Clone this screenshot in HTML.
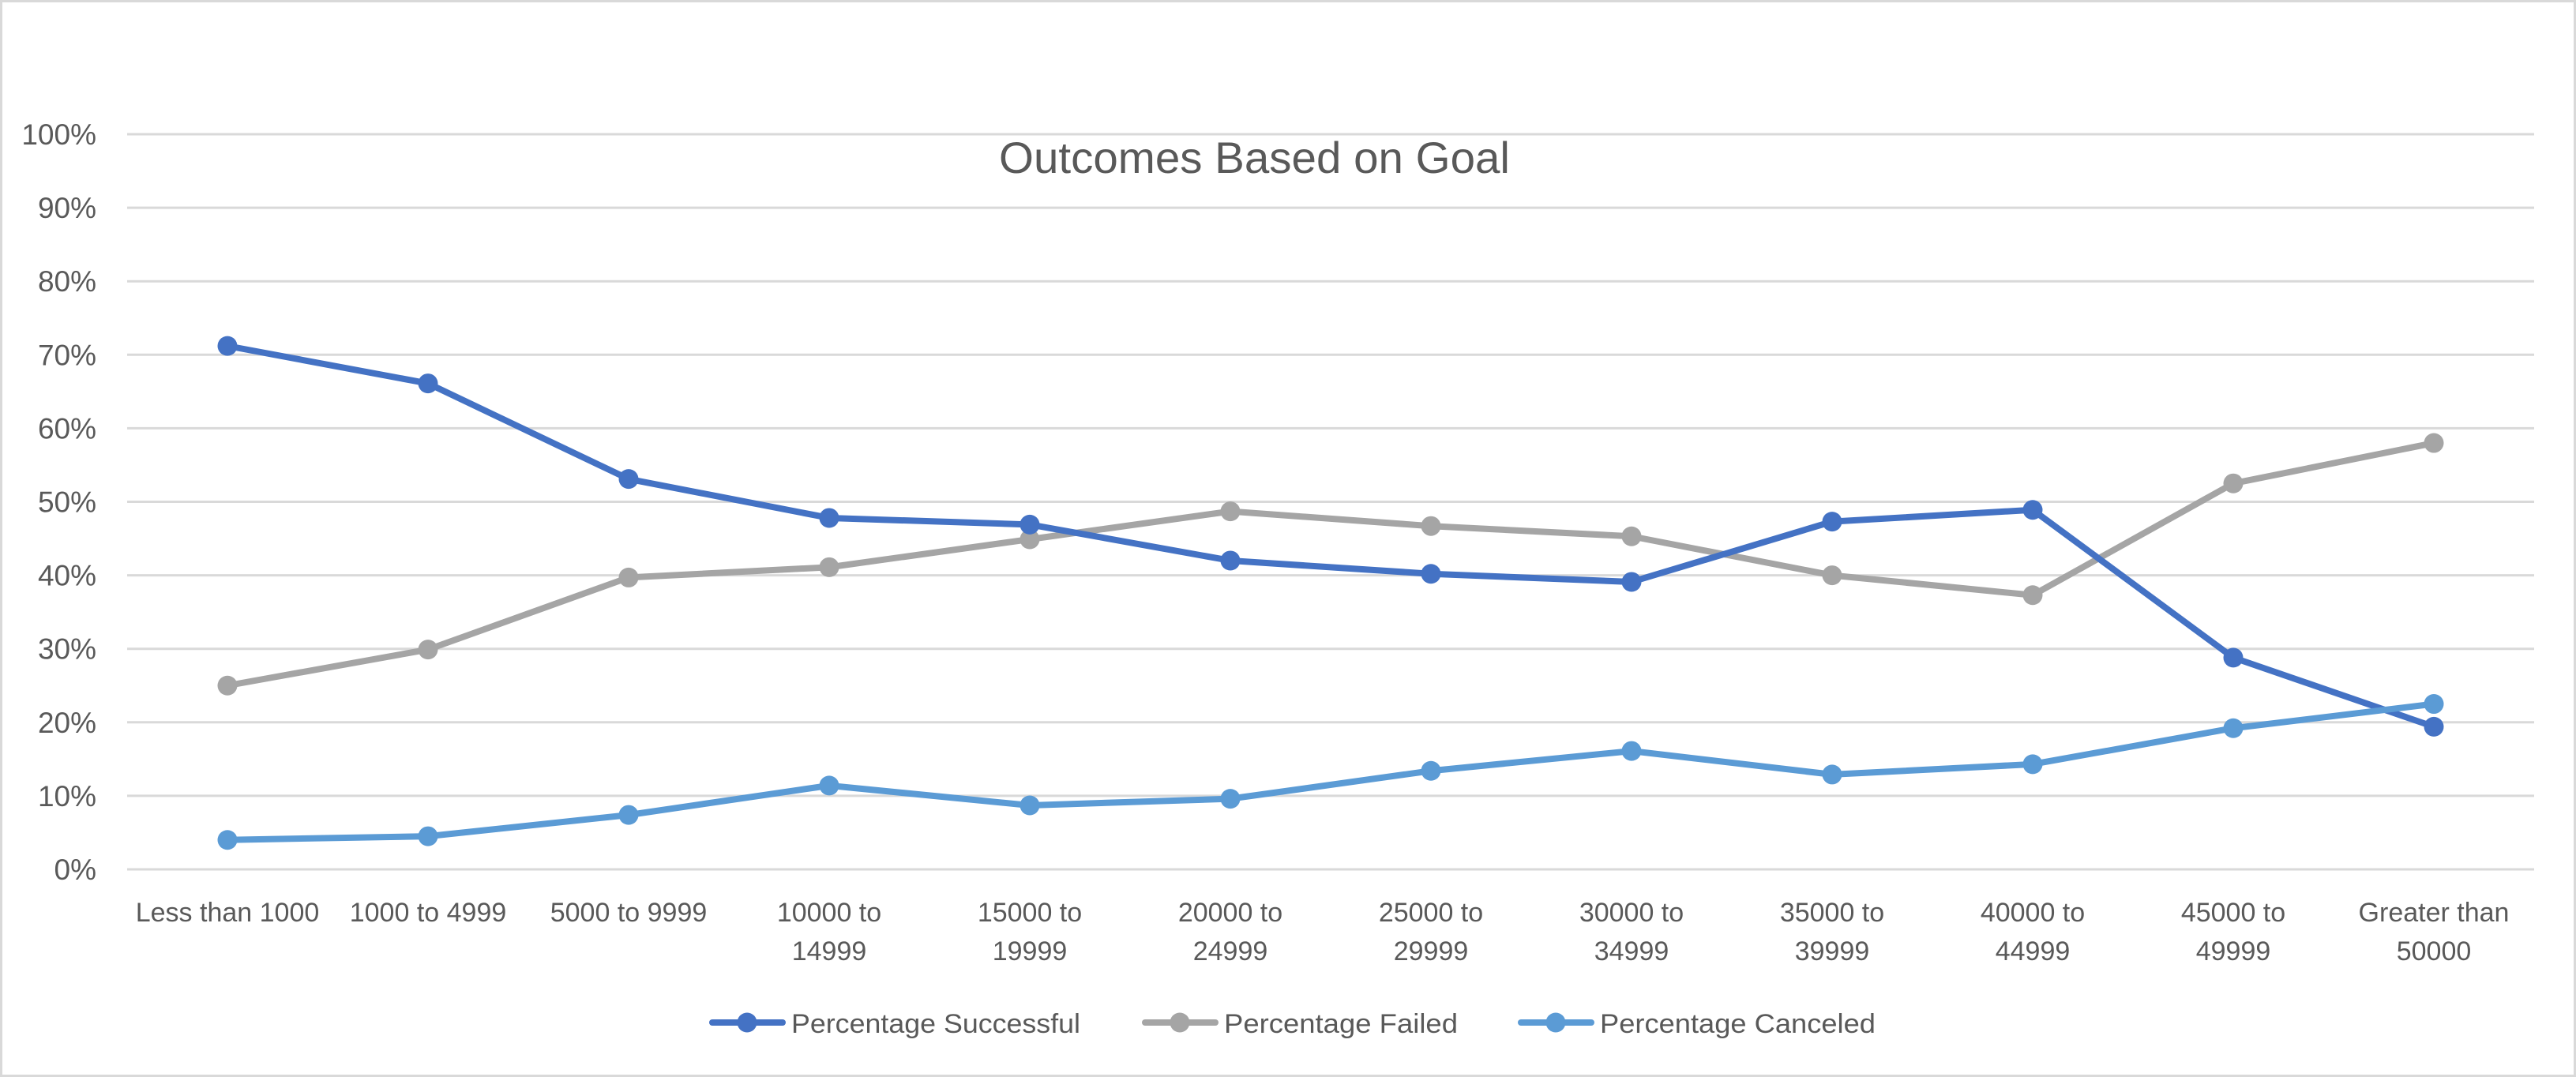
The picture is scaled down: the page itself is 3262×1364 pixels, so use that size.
<!DOCTYPE html>
<html><head><meta charset="utf-8"><style>
html,body{margin:0;padding:0;background:#fff}
svg{display:block}
text{font-family:"Liberation Sans",sans-serif;fill:#595959}
</style></head><body>
<svg id="chart" width="3262" height="1364" viewBox="0 0 3262 1364" xmlns="http://www.w3.org/2000/svg">
<rect x="1.5" y="1.5" width="3259" height="1361" fill="#fff" stroke="#D9D9D9" stroke-width="3"/>
<g id="grid"></g>
<g id="yticks"></g>
<g id="xticks"></g>
<text x="1265" y="219" font-size="56" textLength="647" lengthAdjust="spacingAndGlyphs">Outcomes Based on Goal</text>
<g id="series"></g>
<g id="legend"></g>
</svg>
<script>
const categories=[["Less than 1000"],["1000 to 4999"],["5000 to 9999"],["10000 to","14999"],["15000 to","19999"],["20000 to","24999"],["25000 to","29999"],["30000 to","34999"],["35000 to","39999"],["40000 to","44999"],["45000 to","49999"],["Greater than","50000"]];
const successful=[71.2,66.1,53.1,47.8,46.9,42.0,40.2,39.1,47.3,48.9,28.8,19.4];
const failed=[25.0,29.9,39.7,41.1,44.9,48.7,46.7,45.3,40.0,37.3,52.5,58.0];
const canceled=[4.0,4.5,7.4,11.4,8.7,9.6,13.4,16.1,12.9,14.3,19.2,22.5];
const yTicks=[0,10,20,30,40,50,60,70,80,90,100];
const seriesNames=["Percentage Successful","Percentage Failed","Percentage Canceled"];

const NS="http://www.w3.org/2000/svg";
const L=161,R=3209,T=170,B=1101;
const step=(R-L)/categories.length;
const xs=i=>L+step*(i+0.5);
const ys=v=>B-(v/100)*(B-T);
function mk(tag,attrs,parent){const e=document.createElementNS(NS,tag);for(const k in attrs)e.setAttribute(k,attrs[k]);parent.appendChild(e);return e;}
const grid=document.getElementById('grid'),yt=document.getElementById('yticks'),xt=document.getElementById('xticks'),sg=document.getElementById('series'),lg=document.getElementById('legend');
yTicks.forEach(v=>{
  const ln=mk('line',{x1:L,x2:R,y1:ys(v),y2:ys(v),stroke:'#D9D9D9','stroke-width':3},grid);
  
  
  const t=mk('text',{x:122,y:ys(v)+13,'font-size':37,'text-anchor':'end'},yt);
  t.textContent=v+'%';
  
  
});
categories.forEach((c,i)=>{
  c.forEach((line,j)=>{
    const t=mk('text',{x:xs(i),y:1167+j*49,'font-size':34,'text-anchor':'middle'},xt);
    t.textContent=line;
    
    
  });
});
const data=[successful,failed,canceled];
const colors=["#4472C4","#A5A5A5","#5B9BD5"];
const keys=["successful","failed","canceled"];
[1,0,2].forEach(s=>{
  const g=mk('g',{},sg);
  
  
  const pts=data[s].map((v,i)=>xs(i)+','+ys(v)).join(' ');
  const pl=mk('polyline',{points:pts,fill:'none',stroke:colors[s],'stroke-width':8,'stroke-linejoin':'round','stroke-linecap':'round'},g);
  
  
  data[s].forEach((v,i)=>{
    const c=mk('circle',{cx:xs(i),cy:ys(v),r:12.5,fill:colors[s]},g);
    
    
  });
});
const legX=[898,1446,1922],legW=[366,296,349];
seriesNames.forEach((n,s)=>{
  const g=mk('g',{},lg);
  
  
  mk('line',{x1:legX[s]+4,x2:legX[s]+93,y1:1295,y2:1295,stroke:colors[s],'stroke-width':8,'stroke-linecap':'round'},g);
  mk('circle',{cx:legX[s]+48,cy:1295,r:12.5,fill:colors[s]},g);
  const t=mk('text',{x:legX[s]+104,y:1308,'font-size':34,textLength:legW[s],lengthAdjust:'spacingAndGlyphs'},g);
  t.textContent=n;
});
</script>
</body></html>
